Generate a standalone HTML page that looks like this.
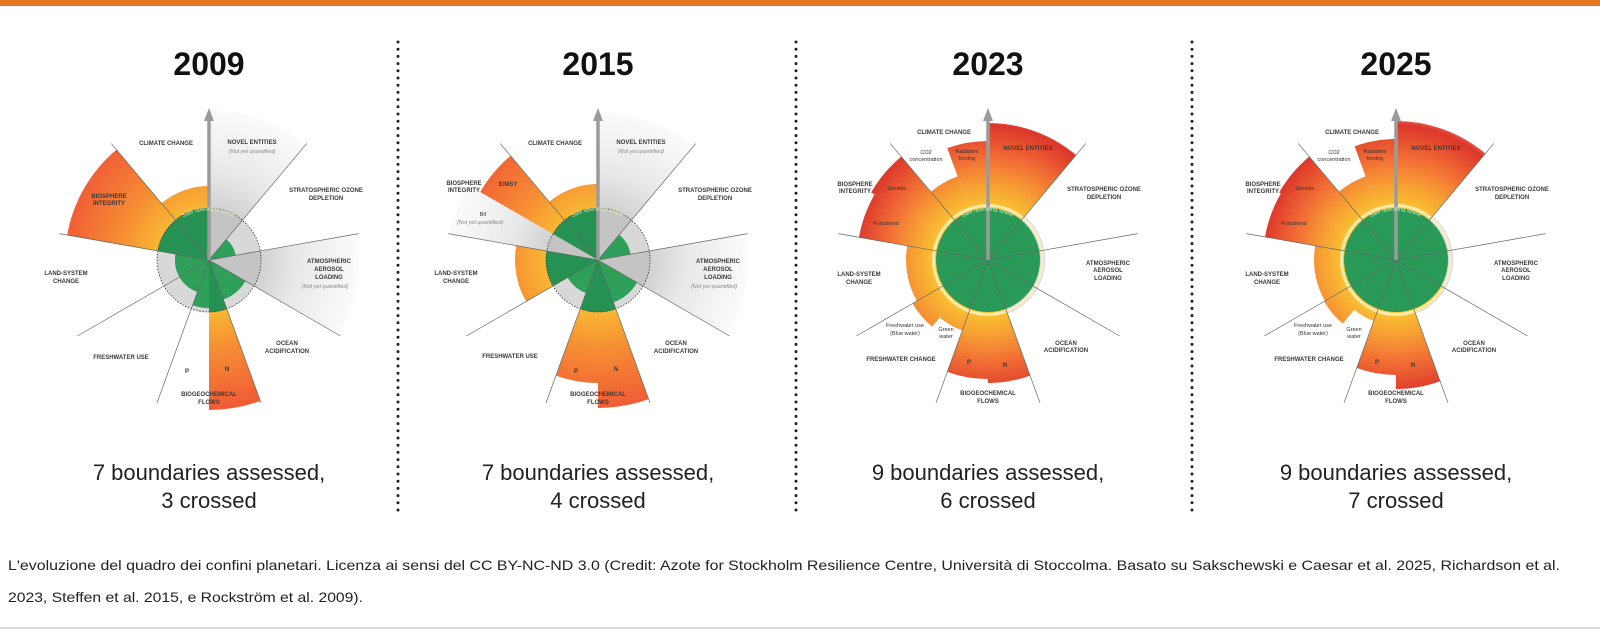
<!DOCTYPE html>
<html><head><meta charset="utf-8">
<style>
html,body{margin:0;padding:0;background:#fff;}
svg{display:block;}
.l{font-family:"Liberation Sans",sans-serif;font-size:6px;font-weight:bold;fill:#3a3a3a;text-anchor:middle;}
.s{font-family:"Liberation Sans",sans-serif;font-size:5.5px;fill:#333;text-anchor:middle;}
.i{font-family:"Liberation Sans",sans-serif;font-size:5.5px;font-style:italic;fill:#888;text-anchor:middle;}
.t{font-family:"Liberation Sans",sans-serif;font-size:32px;font-weight:bold;fill:#111;text-anchor:middle;}
.b{font-family:"Liberation Sans",sans-serif;font-size:22px;fill:#222;text-anchor:middle;}
.c{font-family:"Liberation Sans",sans-serif;font-size:14px;fill:#222;}
.sos{font-family:"Liberation Sans",sans-serif;font-size:5.5px;fill:#d8f0b8;}
</style></head><body>
<svg id="s" width="1600" height="631" viewBox="0 0 1600 631" xmlns="http://www.w3.org/2000/svg">
<defs>
<radialGradient id="go" gradientUnits="userSpaceOnUse" cx="0" cy="0" r="150">
<stop offset="0.35" stop-color="#f9b634"/><stop offset="0.6" stop-color="#f68d33"/><stop offset="1" stop-color="#f05a36"/></radialGradient>
<radialGradient id="gr" gradientUnits="userSpaceOnUse" cx="0" cy="0" r="150">
<stop offset="0.35" stop-color="#fbc431"/><stop offset="0.5" stop-color="#f7a033"/><stop offset="0.68" stop-color="#f26e35"/><stop offset="0.9" stop-color="#dc362b"/><stop offset="1" stop-color="#f4b0a0"/></radialGradient>
<radialGradient id="gn" gradientUnits="userSpaceOnUse" cx="0" cy="0" r="150">
<stop offset="0.35" stop-color="#d2d2d2"/><stop offset="0.6" stop-color="#e9e9e9"/><stop offset="1" stop-color="#fbfbfb"/></radialGradient>
<path id="arc" d="M -32 -38 A 50 50 0 0 1 32 -38"/>
</defs>
<rect x="0" y="0" width="1600" height="6" fill="#e87722"/>
<text class="t" x="209" y="75">2009</text>
<text class="t" x="598" y="75">2015</text>
<text class="t" x="988" y="75">2023</text>
<text class="t" x="1396" y="75">2025</text>
<g stroke="#222" stroke-width="3" stroke-linecap="round" stroke-dasharray="0 7.2">
<line x1="398" y1="42" x2="398" y2="512"/><line x1="796" y1="42" x2="796" y2="512"/><line x1="1192" y1="42" x2="1192" y2="512"/></g>

<g id="c1" transform="translate(209,260)"></g>
<g id="c2" transform="translate(598,260)"></g>
<g id="c3" transform="translate(988,260)"></g>
<g id="c4" transform="translate(1396,260)"></g>

<g transform="translate(209,260)">
<text class="l" x="-43" y="-115">CLIMATE CHANGE</text>
<text class="l" x="43" y="-116">NOVEL ENTITIES</text><text class="i" x="43" y="-107">(Not yet quantified)</text>
<text class="l" x="117" y="-68">STRATOSPHERIC OZONE</text><text class="l" x="117" y="-60">DEPLETION</text>
<text class="l" x="120" y="3">ATMOSPHERIC</text><text class="l" x="120" y="11">AEROSOL</text><text class="l" x="120" y="19">LOADING</text><text class="i" x="116" y="28">(Not yet quantified)</text>
<text class="l" x="78" y="85">OCEAN</text><text class="l" x="78" y="93">ACIDIFICATION</text>
<text class="l" x="0" y="136">BIOGEOCHEMICAL</text><text class="l" x="0" y="144">FLOWS</text>
<text class="l" x="-22" y="113">P</text><text class="l" x="18" y="111">N</text>
<text class="l" x="-88" y="99">FRESHWATER USE</text>
<text class="l" x="-143" y="15">LAND-SYSTEM</text><text class="l" x="-143" y="23">CHANGE</text>
<text class="l" x="-100" y="-62">BIOSPHERE</text><text class="l" x="-100" y="-55">INTEGRITY</text>
</g>
<g transform="translate(598,260)">
<text class="l" x="-43" y="-115">CLIMATE CHANGE</text>
<text class="l" x="43" y="-116">NOVEL ENTITIES</text><text class="i" x="43" y="-107">(Not yet quantified)</text>
<text class="l" x="117" y="-68">STRATOSPHERIC OZONE</text><text class="l" x="117" y="-60">DEPLETION</text>
<text class="l" x="120" y="3">ATMOSPHERIC</text><text class="l" x="120" y="11">AEROSOL</text><text class="l" x="120" y="19">LOADING</text><text class="i" x="116" y="28">(Not yet quantified)</text>
<text class="l" x="78" y="85">OCEAN</text><text class="l" x="78" y="93">ACIDIFICATION</text>
<text class="l" x="0" y="136">BIOGEOCHEMICAL</text><text class="l" x="0" y="144">FLOWS</text>
<text class="l" x="-22" y="113">P</text><text class="l" x="18" y="111">N</text>
<text class="l" x="-88" y="98">FRESHWATER USE</text>
<text class="l" x="-142" y="15">LAND-SYSTEM</text><text class="l" x="-142" y="23">CHANGE</text>
<text class="l" x="-134" y="-75">BIOSPHERE</text><text class="l" x="-134" y="-68">INTEGRITY</text>
<text class="l" x="-90" y="-74">E/MSY</text>
<text class="s" x="-115" y="-44">BII</text><text class="i" x="-118" y="-36">(Not yet quantified)</text>
</g>
<g transform="translate(988,260)">
<text class="l" x="-44" y="-126">CLIMATE CHANGE</text>
<text class="s" x="-62" y="-106">CO2</text><text class="s" x="-62" y="-99">concentration</text>
<text class="s" x="-21" y="-107">Radiative</text><text class="s" x="-21" y="-100">forcing</text>
<text class="l" x="40" y="-110">NOVEL ENTITIES</text>
<text class="l" x="116" y="-69">STRATOSPHERIC OZONE</text><text class="l" x="116" y="-61">DEPLETION</text>
<text class="l" x="120" y="5">ATMOSPHERIC</text><text class="l" x="120" y="12">AEROSOL</text><text class="l" x="120" y="20">LOADING</text>
<text class="l" x="78" y="85">OCEAN</text><text class="l" x="78" y="92">ACIDIFICATION</text>
<text class="l" x="0" y="135">BIOGEOCHEMICAL</text><text class="l" x="0" y="143">FLOWS</text>
<text class="l" x="-19" y="104">P</text><text class="l" x="17" y="107">N</text>
<text class="l" x="-87" y="101">FRESHWATER CHANGE</text>
<text class="s" x="-83" y="67">Freshwater use</text><text class="s" x="-83" y="75">(Blue water)</text>
<text class="s" x="-42" y="71">Green</text><text class="s" x="-42" y="78">water</text>
<text class="l" x="-129" y="16">LAND-SYSTEM</text><text class="l" x="-129" y="24">CHANGE</text>
<text class="l" x="-133" y="-74">BIOSPHERE</text><text class="l" x="-133" y="-67">INTEGRITY</text>
<text class="s" x="-91" y="-70">Genetic</text><text class="s" x="-102" y="-35">Functional</text>
</g>
<g transform="translate(1396,260)">
<text class="l" x="-44" y="-126">CLIMATE CHANGE</text>
<text class="s" x="-62" y="-106">CO2</text><text class="s" x="-62" y="-99">concentration</text>
<text class="s" x="-21" y="-107">Radiative</text><text class="s" x="-21" y="-100">forcing</text>
<text class="l" x="40" y="-110">NOVEL ENTITIES</text>
<text class="l" x="116" y="-69">STRATOSPHERIC OZONE</text><text class="l" x="116" y="-61">DEPLETION</text>
<text class="l" x="120" y="5">ATMOSPHERIC</text><text class="l" x="120" y="12">AEROSOL</text><text class="l" x="120" y="20">LOADING</text>
<text class="l" x="78" y="85">OCEAN</text><text class="l" x="78" y="92">ACIDIFICATION</text>
<text class="l" x="0" y="135">BIOGEOCHEMICAL</text><text class="l" x="0" y="143">FLOWS</text>
<text class="l" x="-19" y="104">P</text><text class="l" x="17" y="107">N</text>
<text class="l" x="-87" y="101">FRESHWATER CHANGE</text>
<text class="s" x="-83" y="67">Freshwater use</text><text class="s" x="-83" y="75">(Blue water)</text>
<text class="s" x="-42" y="71">Green</text><text class="s" x="-42" y="78">water</text>
<text class="l" x="-129" y="16">LAND-SYSTEM</text><text class="l" x="-129" y="24">CHANGE</text>
<text class="l" x="-133" y="-74">BIOSPHERE</text><text class="l" x="-133" y="-67">INTEGRITY</text>
<text class="s" x="-91" y="-70">Genetic</text><text class="s" x="-102" y="-35">Functional</text>
</g>

<text class="b" x="209" y="480">7 boundaries assessed,</text><text class="b" x="209" y="508">3 crossed</text>
<text class="b" x="598" y="480">7 boundaries assessed,</text><text class="b" x="598" y="508">4 crossed</text>
<text class="b" x="988" y="480">9 boundaries assessed,</text><text class="b" x="988" y="508">6 crossed</text>
<text class="b" x="1396" y="480">9 boundaries assessed,</text><text class="b" x="1396" y="508">7 crossed</text>

<text class="c" x="8" y="570" textLength="1552" lengthAdjust="spacingAndGlyphs">L'evoluzione del quadro dei confini planetari. Licenza ai sensi del CC BY-NC-ND 3.0 (Credit: Azote for Stockholm Resilience Centre, Università di Stoccolma. Basato su Sakschewski e Caesar et al. 2025, Richardson et al.</text>
<text class="c" x="8" y="602" textLength="355" lengthAdjust="spacingAndGlyphs">2023, Steffen et al. 2015, e Rockström et al. 2009).</text>
<line x1="0" y1="628" x2="1600" y2="628" stroke="#cfcfcf" stroke-width="1.5"/>
</svg>
<script>
var NS="http://www.w3.org/2000/svg";
function el(p,n,a){var e=document.createElementNS(NS,n);for(var k in a)e.setAttribute(k,a[k]);p.appendChild(e);return e;}
function pt(a,r){a=a*Math.PI/180;return [r*Math.sin(a),-r*Math.cos(a)];}
function wedge(a0,a1,r){var p0=pt(a0,r),p1=pt(a1,r);return "M0 0 L"+p0[0].toFixed(2)+" "+p0[1].toFixed(2)+" A"+r+" "+r+" 0 0 1 "+p1[0].toFixed(2)+" "+p1[1].toFixed(2)+" Z";}
var F={g:"#2ea05a",o:"url(#go)",r:"url(#gr)",n:"url(#gn)"};
var charts={
c1:{old:1,w:[[0,40,150,'n'],[80,120,150,'n'],[40,80,27,'g'],[120,160,42,'g'],[160,180,150,'o'],[180,200,48,'g'],[200,240,34,'g'],[240,280,34,'g'],[280,320,144,'o'],[320,360,74,'o']],gin:[[160,180],[280,320],[320,360]]},
c2:{old:1,w:[[0,40,148,'n'],[80,120,150,'n'],[280,300,150,'n'],[40,80,33,'g'],[120,160,45,'g'],[160,180,148,'o'],[180,200,123,'o'],[200,240,35,'g'],[240,280,83,'o'],[300,320,136,'o'],[320,360,76,'o']],gin:[[160,200],[240,280],[300,360]]},
c3:{old:0,w:[[0,40,137,'r'],[160,180,123,'r'],[180,200,119,'r'],[200,220,75,'r'],[220,240,87,'r'],[240,280,82,'r'],[280,300,131,'r'],[300,320,135,'r'],[320,340,89,'r'],[340,360,119,'r']]},
c4:{old:0,w:[[0,40,139,'r'],[120,160,56,'r'],[160,180,129,'r'],[180,200,115,'r'],[200,220,65,'r'],[220,240,83,'r'],[240,280,82,'r'],[280,300,133,'r'],[300,320,135,'r'],[320,340,89,'r'],[340,360,121,'r']]}
};
for(var id in charts){
 var g=document.getElementById(id),c=charts[id];
 if(c.old){
  el(g,"circle",{cx:0,cy:0,r:52,fill:"#d8d8d8"});
  c.w.forEach(function(w){el(g,"path",{d:wedge(w[0],w[1],w[2]),fill:F[w[3]]});});
  c.w.forEach(function(w){if(w[3]=='n')el(g,"path",{d:wedge(w[0],w[1],52),fill:"#c4c4c4"});});
  c.gin.forEach(function(w){el(g,"path",{d:wedge(w[0],w[1],52),fill:"#259152"});});
  c.w.forEach(function(w){if(w[3]=='g')el(g,"path",{d:wedge(w[0],w[1],w[2]),fill:"#2ea05a"});});
  el(g,"circle",{cx:0,cy:0,r:52,fill:"none",stroke:"#333","stroke-width":0.8,"stroke-dasharray":"1.5 1.5"});
 } else {
  el(g,"circle",{cx:0,cy:0,r:57,fill:"#d6d6d6"});
  c.w.forEach(function(w){el(g,"path",{d:wedge(w[0],w[1],w[2]),fill:F[w[3]]});});
  el(g,"circle",{cx:0,cy:0,r:54.5,fill:"none",stroke:"#fff3c8","stroke-width":3,opacity:0.8});
  el(g,"circle",{cx:0,cy:0,r:52,fill:"#2a9a58"});
 }
 [40,80,120,160,200,240,280,320].forEach(function(a){var p=pt(a,152);el(g,"line",{x1:0,y1:0,x2:p[0],y2:p[1],stroke:"#666","stroke-width":0.7});});
 el(g,"line",{x1:0,y1:0,x2:0,y2:-140,stroke:"#9b9b9b","stroke-width":3.5});
 el(g,"path",{d:"M-5 -139 L0 -152 L5 -139 Z",fill:"#9b9b9b"});
 var t=el(g,"text",{"class":"sos"});var tp=el(t,"textPath",{href:"#arc",startOffset:"8"});tp.textContent="Safe operating space";
}
</script>
</body></html>
